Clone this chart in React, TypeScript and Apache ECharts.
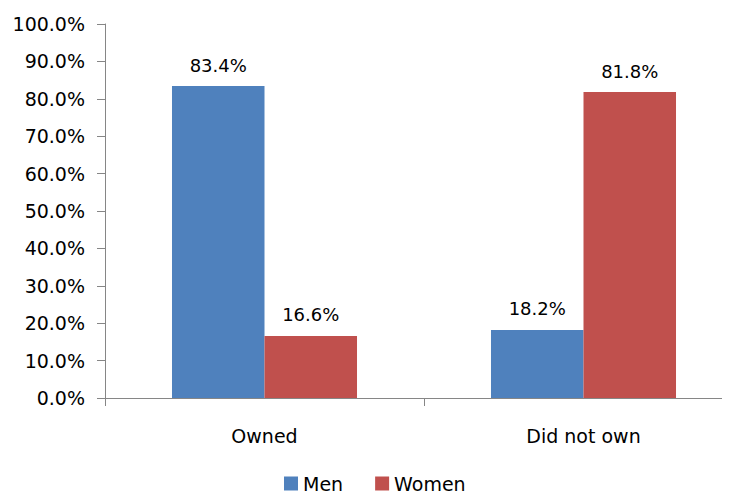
import React, { useEffect, useRef } from "react";
import * as echarts from "echarts";

const categories = ["Owned", "Did not own"];
const menValues = [83.4, 18.2];
const womenValues = [16.6, 81.8];
const seriesNames = ["Men", "Women"];

const FONT = "DejaVu Sans";

export default function App() {
  const ref = useRef<HTMLDivElement>(null);
  useEffect(() => {
    if (!ref.current) return;
    const chart = echarts.init(ref.current, null, { renderer: "svg" });
    const label = {
      show: true,
      position: "top" as const,
      distance: 12,
      color: "#000",
      fontFamily: FONT,
      fontSize: 18,
      formatter: (p: any) => p.value.toFixed(1) + "%",
    };
    chart.setOption({
      animation: false,
      grid: {
        left: 105,
        top: 24,
        width: 638,
        height: 374,
        containLabel: false,
        outerBoundsMode: "none",
      },
      legend: {
        left: 284,
        top: 474,
        padding: 0,
        itemWidth: 14,
        itemHeight: 14,
        itemGap: 32,
        icon: "rect",
        textStyle: { fontFamily: FONT, fontSize: 19, color: "#000" },
        data: seriesNames,
      },
      xAxis: {
        type: "category",
        data: categories,
        axisLine: { lineStyle: { color: "#868686" } },
        axisTick: { show: true, length: 8, lineStyle: { color: "#868686" } },
        axisLabel: { margin: 28, fontFamily: FONT, fontSize: 19, color: "#000" },
      },
      yAxis: {
        type: "value",
        min: 0,
        max: 100,
        interval: 10,
        axisLine: { show: true, lineStyle: { color: "#868686" } },
        axisTick: { show: true, length: 8, lineStyle: { color: "#868686" } },
        splitLine: { show: false },
        axisLabel: {
          margin: 20,
          fontFamily: FONT,
          fontSize: 19,
          color: "#000",
          formatter: (v: number) => v.toFixed(1) + "%",
        },
      },
      series: [
        {
          name: seriesNames[0],
          type: "bar",
          data: menValues,
          barGap: "0%",
          barCategoryGap: "42%",
          itemStyle: { color: "#4F81BD" },
          label,
        },
        {
          name: seriesNames[1],
          type: "bar",
          data: womenValues,
          barGap: "0%",
          barCategoryGap: "42%",
          itemStyle: { color: "#C0504D" },
          label,
        },
      ],
    });
    return () => chart.dispose();
  }, []);
  return <div ref={ref} style={{ width: 730, height: 493, marginLeft: -8, marginTop: -8 }} />;
}
